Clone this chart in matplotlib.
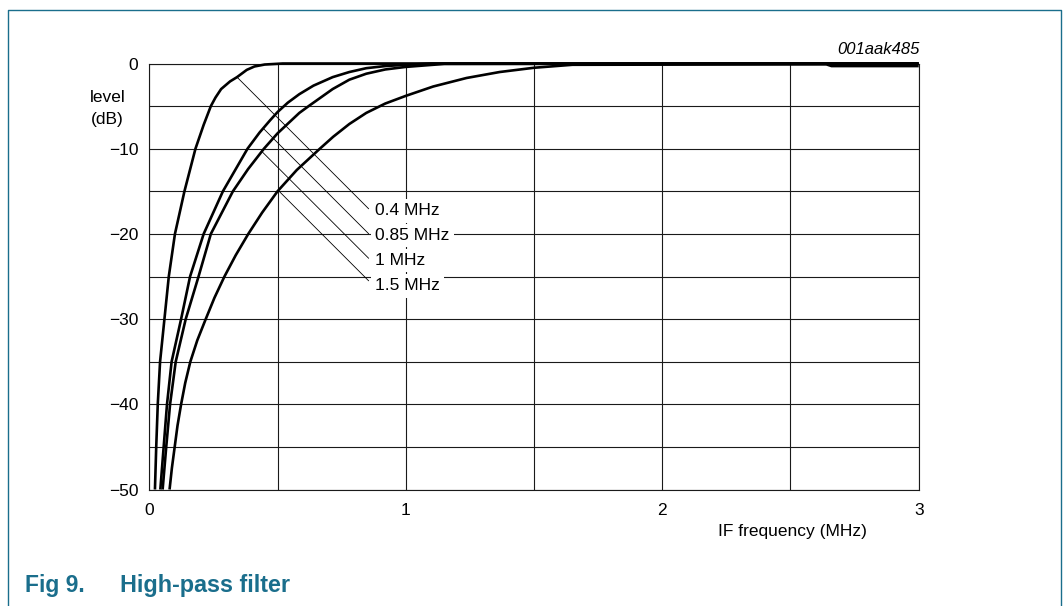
import matplotlib
matplotlib.use("Agg")
import matplotlib.pyplot as plt
from matplotlib.lines import Line2D

plt.rcParams['font.family'] = ['Liberation Sans', 'DejaVu Sans']

# ---- data (IF frequency in MHz, level in dB) ----
labels = ["0.4 MHz", "0.85 MHz", "1 MHz", "1.5 MHz"]

f_04 = [0.022, 0.027, 0.033, 0.042, 0.059, 0.076, 0.100, 0.137, 0.180, 0.212,
        0.240, 0.258, 0.280, 0.315, 0.342, 0.380, 0.410, 0.450, 0.520, 3.0]
db_04 = [-50, -45, -40, -35, -30, -25, -20, -15, -10, -7.2,
         -5, -4.0, -3.0, -2.1, -1.6, -0.75, -0.35, -0.12, 0, 0]

f_085 = [0.043, 0.056, 0.069, 0.087, 0.124, 0.159, 0.212, 0.287, 0.383, 0.430,
         0.470, 0.500, 0.540, 0.585, 0.640, 0.715, 0.780, 0.846, 0.920, 0.975,
         1.10, 3.0]
db_085 = [-50, -45, -40, -35, -30, -25, -20, -15, -10, -8.1,
          -6.7, -5.7, -4.6, -3.6, -2.6, -1.6, -1.0, -0.55, -0.3, -0.2,
          0, 0]

f_1 = [0.052, 0.066, 0.081, 0.103, 0.142, 0.192, 0.240, 0.326, 0.385, 0.447,
       0.500, 0.585, 0.626, 0.715, 0.780, 0.846, 0.920, 1.0, 1.15, 3.0]
db_1 = [-50, -45, -40, -35, -30, -25, -20, -15, -12.4, -10,
        -8.2, -5.8, -4.9, -3.0, -1.9, -1.2, -0.7, -0.4, -0.05, 0]

f_15 = [0.079, 0.088, 0.099, 0.110, 0.124, 0.140, 0.160, 0.187, 0.220, 0.254,
        0.293, 0.337, 0.386, 0.440, 0.500, 0.575, 0.665, 0.717, 0.780, 0.846,
        0.920, 1.0, 1.107, 1.237, 1.366, 1.5, 1.65, 2.64, 2.66, 3.0]
db_15 = [-50, -47.5, -45, -42.5, -40, -37.5, -35, -32.5, -30, -27.5,
         -25, -22.5, -20, -17.5, -15, -12.5, -10, -8.6, -7.1, -5.8,
         -4.7, -3.8, -2.7, -1.7, -1.0, -0.5, -0.15, -0.1, -0.3, -0.3]

curves_f = [f_04, f_085, f_1, f_15]
curves_db = [db_04, db_085, db_1, db_15]

# leader start points on the curves (MHz, dB)
leader_f = [0.342, 0.444, 0.438, 0.503]
leader_db = [-1.6, -7.6, -10.3, -14.9]

x_ticks = [0, 1, 2, 3]
y_ticks = [0, -10, -20, -30, -40, -50]

# ---- figure ----
W, H = 1063, 606
fig = plt.figure(figsize=(W / 100, H / 100), dpi=100)
fig.patch.set_facecolor('white')

ax_l, ax_r, ax_t, ax_b = 149.3, 918.7, 63.5, 489.5
ax = fig.add_axes([ax_l / W, 1 - ax_b / H, (ax_r - ax_l) / W, (ax_b - ax_t) / H])
ax.set_xlim(0, 3)
ax.set_ylim(-50, 0)

FS = 12.5
ax.set_xticks(x_ticks)
ax.set_xticklabels([str(v) for v in x_ticks])
ax.set_yticks(y_ticks)
ax.set_yticklabels([("\u2212" + str(-v)) if v < 0 else str(v) for v in y_ticks])
ax.set_xticks([0.5, 1.5, 2.5], minor=True)
ax.set_yticks([-5, -15, -25, -35, -45], minor=True)
ax.grid(which='both', color='#1a1a1a', lw=0.8)
ax.set_axisbelow(True)
ax.tick_params(which='both', length=0)
ax.tick_params(axis='x', pad=10, labelsize=FS)
ax.tick_params(axis='y', pad=8, labelsize=FS)
for s in ax.spines.values():
    s.set_color('#1a1a1a')
    s.set_linewidth(0.8)

for fx, dbv in zip(curves_f, curves_db):
    ax.plot(fx, dbv, color='black', lw=1.9, clip_on=False,
            solid_capstyle='butt', solid_joinstyle='round', zorder=3)

# leader lines at 45 degrees in screen space
px_per_mhz = (ax_r - ax_l) / 3.0
px_per_db = (ax_b - ax_t) / 50.0
end_f = 0.855
label_f = 0.880
label_db = [-17.3, -20.2, -23.1, -26.1]
for lf, ldb, lab, tdb in zip(leader_f, leader_db, labels, label_db):
    d_px = (end_f - lf) * px_per_mhz
    end_db = ldb - d_px / px_per_db
    ax.plot([lf, end_f], [ldb, end_db], color='black', lw=0.6, zorder=2)
    ax.text(label_f, tdb, lab, ha='left', va='center', fontsize=FS, zorder=4,
            bbox=dict(facecolor='white', edgecolor='none', pad=3.0))

# axis titles
fig.text(107.5 / W, 1 - 102 / H, "level", ha='center', va='baseline', fontsize=FS)
fig.text(107.5 / W, 1 - 124 / H, "(dB)", ha='center', va='baseline', fontsize=FS)
fig.text(792 / W, 1 - 536 / H, "IF frequency (MHz)", ha='center', va='baseline', fontsize=FS)
fig.text(920 / W, 1 - 54 / H, "001aak485", ha='right', va='baseline', fontsize=12,
         style='italic')

# caption and frame
teal = '#1a6e8c'
fig.text(25 / W, 1 - 592 / H, "Fig 9.", ha='left', va='baseline', fontsize=16.5,
         fontweight='bold', color=teal)
fig.text(120 / W, 1 - 592 / H, "High-pass filter", ha='left', va='baseline', fontsize=16.8,
         fontweight='bold', color=teal)

frame_x = [7.5 / W, 7.5 / W, 1060.5 / W, 1060.5 / W]
frame_y = [0, 1 - 9.5 / H, 1 - 9.5 / H, 0]
fig.add_artist(Line2D(frame_x, frame_y, color=teal, lw=1.0, transform=fig.transFigure))

fig.savefig("out.png", dpi=100, facecolor='white')
